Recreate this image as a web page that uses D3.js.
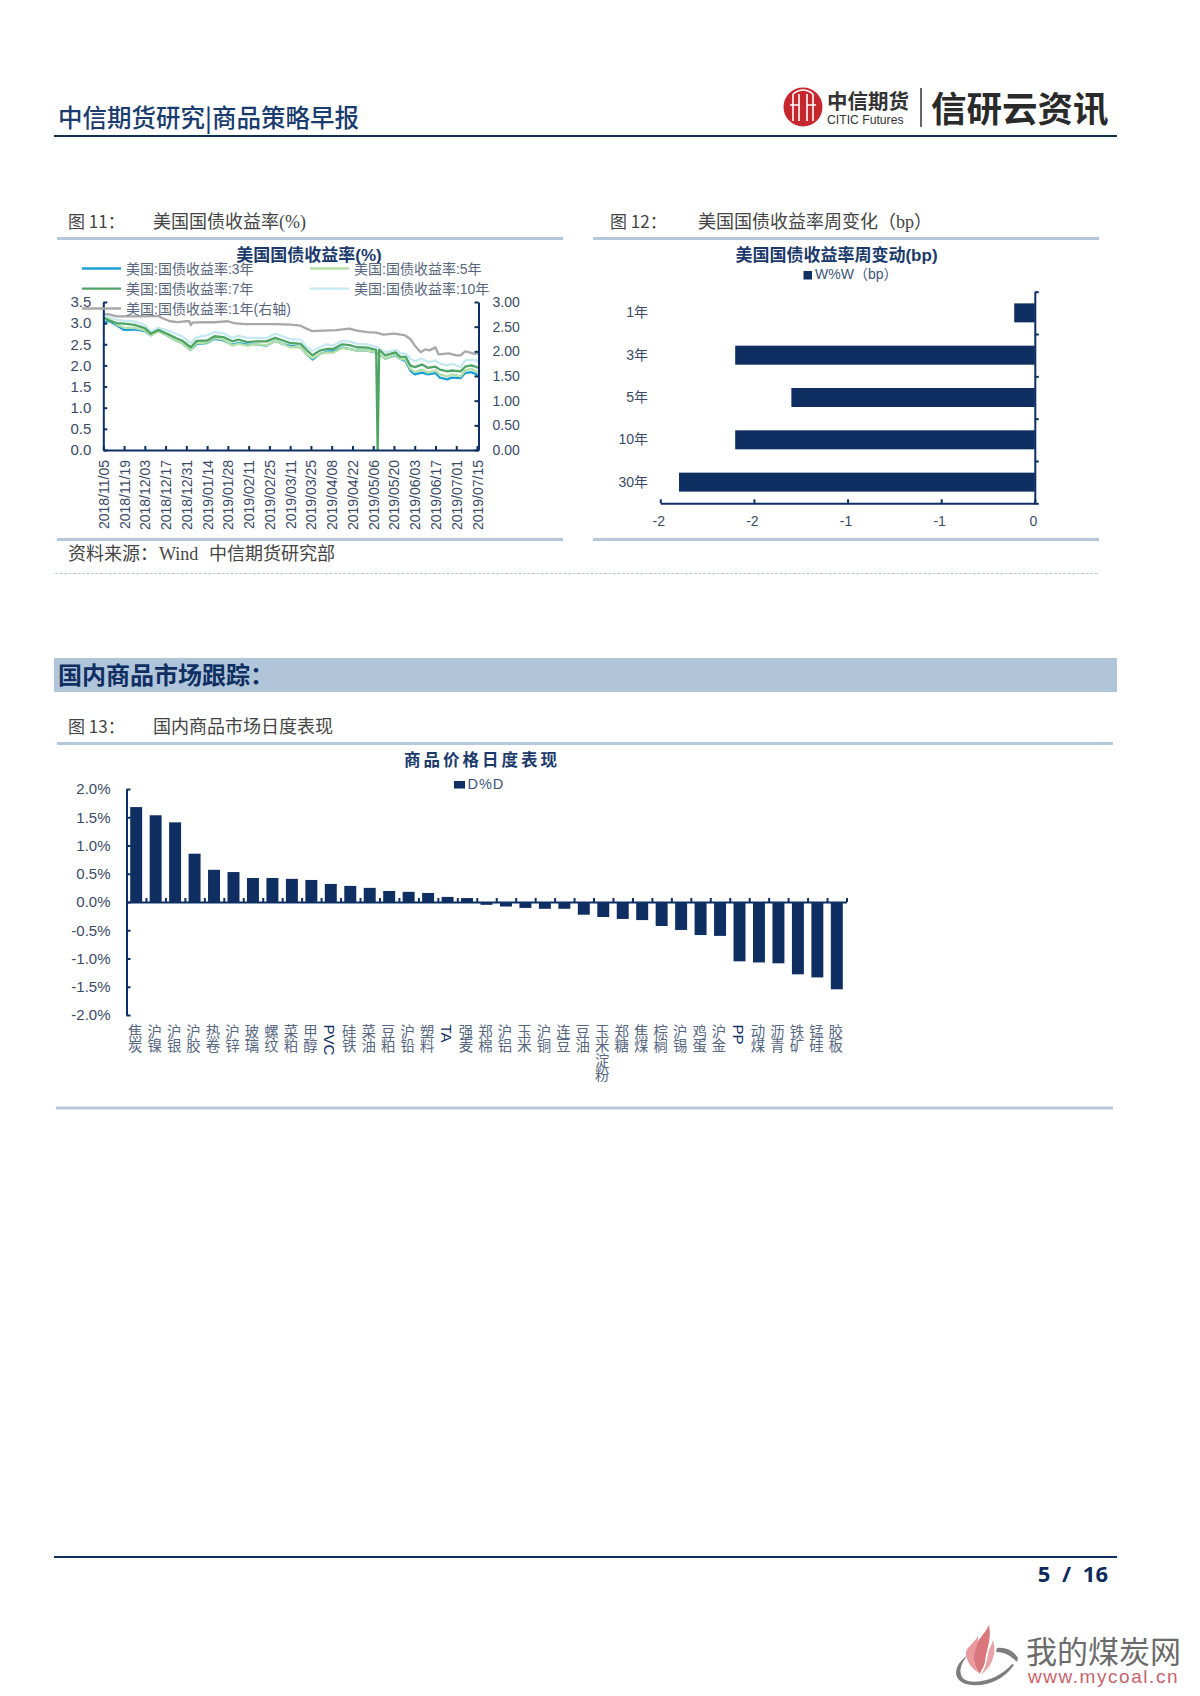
<!DOCTYPE html>
<html><head><meta charset="utf-8">
<script src="https://cdnjs.cloudflare.com/ajax/libs/d3/7.8.5/d3.min.js"></script>
<style>
html,body{margin:0;padding:0;background:#fff}
svg{display:block}
text{font-family:"Liberation Sans","Noto Sans CJK SC",sans-serif}
.serif{font-family:"Liberation Serif","Noto Sans CJK SC",serif}
.cjk{font-family:"Noto Sans CJK SC",sans-serif}
</style></head><body>
<svg id="page" width="1200" height="1696"></svg>
<script>
// ---------- Figure 11 data ----------
const yieldDates = ["2018/11/05","2018/11/09","2018/11/14","2018/11/19","2018/11/26","2018/12/03","2018/12/07","2018/12/12","2018/12/18","2018/12/24","2018/12/28","2019/01/03","2019/01/07","2019/01/14","2019/01/19","2019/01/25","2019/01/31","2019/02/04","2019/02/10","2019/02/17","2019/02/23","2019/03/01","2019/03/06","2019/03/11","2019/03/18","2019/03/22","2019/03/26","2019/03/31","2019/04/05","2019/04/09","2019/04/15","2019/04/20","2019/04/25","2019/05/02","2019/05/08","2019/05/09","2019/05/10","2019/05/14","2019/05/21","2019/05/24","2019/05/28","2019/05/31","2019/06/03","2019/06/08","2019/06/12","2019/06/17","2019/06/20","2019/06/25","2019/06/28","2019/07/04","2019/07/07","2019/07/11","2019/07/14","2019/07/16"];
const yield3Y = [3.03,3.05,2.95,2.84,2.85,2.81,2.71,2.83,2.71,2.59,2.53,2.37,2.51,2.53,2.63,2.59,2.49,2.53,2.49,2.49,2.47,2.58,2.51,2.46,2.43,2.27,2.14,2.27,2.33,2.33,2.42,2.39,2.35,2.35,2.30,2.28,2.26,2.16,2.24,2.16,2.10,1.88,1.79,1.83,1.79,1.82,1.71,1.67,1.71,1.70,1.82,1.84,1.80,1.74];
const yield5Y = [3.08,3.10,2.97,2.89,2.89,2.83,2.71,2.81,2.71,2.59,2.53,2.37,2.53,2.54,2.65,2.61,2.47,2.51,2.47,2.50,2.48,2.58,2.51,2.43,2.43,2.27,2.17,2.27,2.31,2.30,2.41,2.39,2.35,2.35,2.31,2.29,2.26,2.16,2.26,2.16,2.13,1.92,1.84,1.90,1.83,1.88,1.79,1.74,1.79,1.74,1.88,1.92,1.88,1.82];
const yield7Y = [3.14,3.06,3.00,2.99,2.96,2.88,2.75,2.84,2.75,2.65,2.59,2.43,2.58,2.59,2.69,2.67,2.57,2.61,2.55,2.57,2.57,2.65,2.59,2.53,2.51,2.37,2.24,2.35,2.39,2.39,2.50,2.48,2.43,2.42,2.37,0,2.37,2.24,2.31,2.21,2.20,2.00,1.96,2.02,1.94,1.97,1.90,1.86,1.88,1.86,1.97,2.00,1.97,1.94];
const yield10Y = [3.21,3.14,3.08,3.06,3.04,2.96,2.81,2.89,2.83,2.75,2.69,2.53,2.67,2.71,2.79,2.76,2.65,2.70,2.65,2.65,2.65,2.75,2.69,2.62,2.61,2.45,2.34,2.43,2.50,2.47,2.58,2.57,2.51,2.50,2.44,2.43,2.40,2.31,2.37,2.29,2.27,2.16,2.10,2.16,2.08,2.12,2.04,2.00,2.04,1.96,2.12,2.13,2.12,2.08];
const yield1YDates = ["2018/11/05","2018/11/09","2018/11/14","2018/11/19","2018/11/26","2018/12/03","2018/12/12","2018/12/15","2018/12/20","2018/12/25","2018/12/31","2019/01/02","2019/01/03","2019/01/04","2019/01/11","2019/01/20","2019/01/28","2019/02/01","2019/02/08","2019/02/17","2019/03/02","2019/03/11","2019/03/18","2019/03/22","2019/03/26","2019/04/02","2019/04/11","2019/04/20","2019/04/25","2019/05/02","2019/05/08","2019/05/13","2019/05/20","2019/05/27","2019/05/31","2019/06/03","2019/06/07","2019/06/10","2019/06/13","2019/06/17","2019/06/19","2019/06/26","2019/07/01","2019/07/04","2019/07/07","2019/07/10","2019/07/13","2019/07/16"];
const yield1Y = [2.76,2.75,2.71,2.71,2.71,2.71,2.72,2.67,2.61,2.59,2.61,2.61,2.53,2.58,2.59,2.59,2.61,2.57,2.55,2.55,2.55,2.54,2.52,2.46,2.41,2.42,2.43,2.46,2.42,2.39,2.38,2.34,2.36,2.33,2.25,2.12,1.98,2.04,2.02,2.08,1.94,1.96,1.92,1.92,2.00,1.98,1.95,1.96];
const yieldNames = ["美国:国债收益率:3年","美国:国债收益率:5年","美国:国债收益率:7年","美国:国债收益率:10年","美国:国债收益率:1年(右轴)"];
const dateTicks = ["2018/11/05","2018/11/19","2018/12/03","2018/12/17","2018/12/31","2019/01/14","2019/01/28","2019/02/11","2019/02/25","2019/03/11","2019/03/25","2019/04/08","2019/04/22","2019/05/06","2019/05/20","2019/06/03","2019/06/17","2019/07/01","2019/07/15"];
const leftTicks = [0,0.5,1,1.5,2,2.5,3,3.5];
const rightTicks = [0,0.5,1,1.5,2,2.5,3];

// ---------- Figure 12 data ----------
const tenors = ["1年","3年","5年","10年","30年"];
const weekChange = [-0.11,-1.6,-1.3,-1.6,-1.9];
const weekTicks = [-2,-1.5,-1,-0.5,0];
const weekTickLabels = ["-2","-2","-1","-1","0"];

// ---------- Figure 13 data ----------
const commodities = ["焦炭","沪镍","沪银","沪胶","热卷","沪锌","玻璃","螺纹","菜粕","甲醇","PVC","硅铁","菜油","豆粕","沪铅","塑料","TA","强麦","郑棉","沪铝","玉米","沪铜","连豆","豆油","玉米淀粉","郑糖","焦煤","棕榈","沪锡","鸡蛋","沪金","PP","动煤","沥青","铁矿","锰硅","胶板"];
const dayChange = [1.68,1.535,1.41,0.855,0.57,0.53,0.425,0.425,0.41,0.39,0.32,0.285,0.25,0.195,0.18,0.16,0.09,0.07,-0.05,-0.08,-0.105,-0.12,-0.12,-0.225,-0.265,-0.30,-0.32,-0.425,-0.495,-0.585,-0.60,-1.05,-1.07,-1.085,-1.28,-1.335,-1.545];
const dayTicks = [-2,-1.5,-1,-0.5,0,0.5,1,1.5,2];

const NAVY="#0d2f63", TXT="#3a4a66", RULE="#b5c7da", TITLE="#1b3a6b";
const svg=d3.select("#page");
const parse=d3.timeParse("%Y/%m/%d");

function rule(x1,x2,y,w,c){svg.append("line").attr("x1",x1).attr("x2",x2).attr("y1",y).attr("y2",y).attr("stroke",c||RULE).attr("stroke-width",w||3);}
function label(x,y,t,size,fill,opts){opts=opts||{};const s=svg.append("text").attr("x",x).attr("y",y).text(t).attr("font-size",size).attr("fill",fill).attr("text-anchor",opts.anchor||"start");
 if(opts.weight)s.attr("font-weight",opts.weight); if(opts.cls)s.attr("class",opts.cls); if(opts.ls)s.attr("letter-spacing",opts.ls); return s;}
function styleAxis(g,size){g.selectAll("path.domain,line").attr("stroke",NAVY).attr("stroke-width",2);
 g.selectAll("text").attr("fill",TXT).attr("font-size",size).attr("font-family",'"Liberation Sans","Noto Sans CJK SC",sans-serif');}

// ---------- page header ----------
label(58,127,"中信期货研究|商品策略早报",24.5,"#1a3c6e",{cls:"cjk",weight:500});
rule(54,1117,136,2,"#10304f");
const logo=svg.append("g").attr("transform","translate(803,107)");
logo.append("circle").attr("r",19.5).attr("fill","#c6262e");
[-10,-4,4,10].forEach(d=>logo.append("line").attr("x1",d).attr("x2",d).attr("y1",-13).attr("y2",14).attr("stroke","#fff").attr("stroke-width",1.6));
logo.append("path").attr("d","M-10,-13 Q0,-21 10,-13 M-13,-2 H-4 M4,-2 H13").attr("fill","none").attr("stroke","#fff").attr("stroke-width",1.6);
label(827,109,"中信期货",20.5,"#333",{cls:"cjk",weight:700});
label(827,123.5,"CITIC Futures",12.2,"#333");
svg.append("line").attr("x1",921).attr("x2",921).attr("y1",88).attr("y2",127).attr("stroke","#333").attr("stroke-width",1.5);
label(931,122,"信研云资讯",35.5,"#2a2a2a",{cls:"cjk",weight:700});

// ---------- panel titles ----------
label(68,228,"图 11：",17,"#444",{cls:"cjk"});
label(153,228,"美国国债收益率(%)",18,"#444",{cls:"serif"});
label(610,228,"图 12：",17,"#444",{cls:"cjk"});
label(698,228,"美国国债收益率周变化（bp）",18,"#444",{cls:"serif"});
rule(57,563,238.5); rule(593,1099,238.5);
rule(57,563,539.5); rule(593,1099,539.5);
label(68,560,"资料来源：",18,"#444",{cls:"cjk"});
label(159,560,"Wind",18,"#444",{cls:"serif"});
label(209,560,"中信期货研究部",18,"#444",{cls:"cjk"});
svg.append("line").attr("x1",55).attr("x2",1099).attr("y1",573.5).attr("y2",573.5).attr("stroke","#b9c9d8").attr("stroke-width",1).attr("stroke-dasharray","3 1.5");

// ---------- Figure 11 ----------
(function(){
 const L=103.3,R=478.5,T=302,B=450;
 const x=d3.scaleTime().domain([parse("2018/11/05"),parse("2019/07/16")]).range([L,R]);
 const yL=d3.scaleLinear().domain([0,3.5]).range([B,T]);
 const yR=d3.scaleLinear().domain([0,3]).range([B,T]);
 const dts=yieldDates.map(parse), dts1=yield1YDates.map(parse);
 const line=(xs,ys,sc,c)=>svg.append("path").datum(ys.map((v,i)=>[xs[i],v])).attr("fill","none").attr("stroke",c).attr("stroke-width",2.3).attr("stroke-linejoin","round")
   .attr("d",d3.line().x(d=>x(d[0])).y(d=>sc(d[1])));
 const cols=["#1c9fd6","#b4dfa6","#4ea465","#c6e9f1","#a8a8a8"];
 line(dts,yield10Y,yL,cols[3]);
 line(dts,yield3Y,yL,cols[0]);
 line(dts,yield5Y,yL,cols[1]);
 line(dts,yield7Y,yL,cols[2]);
 line(dts1,yield1Y,yR,cols[4]);
 const gx=svg.append("g").attr("transform",`translate(0,${B})`)
  .call(d3.axisBottom(x).tickValues(dateTicks.map(parse)).tickFormat(d3.timeFormat("%Y/%m/%d")).tickSizeInner(-4).tickSizeOuter(0).tickPadding(0));
 styleAxis(gx,14);
 gx.selectAll("text").attr("transform","translate(5,10) rotate(-90)").attr("text-anchor","end").attr("dy",0).attr("y",0).attr("x",0);
 const gl=svg.append("g").attr("transform",`translate(${L},0)`)
  .call(d3.axisLeft(yL).tickValues(leftTicks).tickFormat(d3.format(".1f")).tickSizeInner(-4).tickSizeOuter(0).tickPadding(12));
 styleAxis(gl,15);
 const gr=svg.append("g").attr("transform",`translate(${R},0)`)
  .call(d3.axisRight(yR).tickValues(rightTicks).tickFormat(d3.format(".2f")).tickSizeInner(-4).tickSizeOuter(0).tickPadding(14));
 styleAxis(gr,14);
 label(309,261,"美国国债收益率(%)",17,TITLE,{anchor:"middle",weight:700});
 const leg=[[82,268.5,0],[310,268.5,1],[82,288.7,2],[310,288.7,3],[82,308.5,4]];
 leg.forEach(([lx,ly,i])=>{
  svg.append("line").attr("x1",lx).attr("x2",lx+39).attr("y1",ly).attr("y2",ly).attr("stroke",cols[i]).attr("stroke-width",2.3);
  label(lx+44,ly+5,yieldNames[i],14,"#59667d");
 });
})();

// ---------- Figure 12 ----------
(function(){
 const L=660.3,R=1034.8,T=291.7,B=503.3;
 const x=d3.scaleLinear().domain([-2,0]).range([L,R]);
 const y=d3.scaleBand().domain(tenors).range([T,B]);
 const bh=19;
 svg.append("g").selectAll("rect").data(weekChange).join("rect")
  .attr("x",d=>x(d)).attr("width",d=>x(0)-x(d))
  .attr("y",(d,i)=>y(tenors[i])+(y.bandwidth()-bh)/2).attr("height",bh).attr("fill","#0f2f63");
 const gx=svg.append("g").attr("transform",`translate(0,${B})`)
  .call(d3.axisBottom(x).tickValues(weekTicks).tickFormat((d,i)=>weekTickLabels[i]).tickSizeInner(-4).tickSizeOuter(0).tickPadding(13));
 styleAxis(gx,14);
 gx.selectAll("text").attr("dx",-2);
 const idx=d3.scaleLinear().domain([0,5]).range([T,B]);
 const gy=svg.append("g").attr("transform",`translate(${R},0)`)
  .call(d3.axisRight(idx).tickValues(d3.range(0,6)).tickFormat("").tickSizeInner(4).tickSizeOuter(0));
 styleAxis(gy,14);
 const gc=svg.append("g").attr("transform","translate(648,0)").call(d3.axisLeft(y).tickSize(0).tickPadding(0));
 gc.select(".domain").remove(); styleAxis(gc,14);
 label(836.5,261,"美国国债收益率周变动(bp)",17,TITLE,{anchor:"middle",weight:700});
 svg.append("rect").attr("x",803.5).attr("y",271).attr("width",8.5).attr("height",8.5).attr("fill","#0f2f63");
 label(815,279,"W%W（bp）",14,"#3d5479");
})();

// ---------- section banner ----------
svg.append("rect").attr("x",54).attr("y",658).attr("width",1063).attr("height",34).attr("fill","#b0c5da");
label(58,684,"国内商品市场跟踪：",24,"#0f2f63",{cls:"cjk",weight:700});
label(68,733,"图 13：",17,"#444",{cls:"cjk"});
label(153,733,"国内商品市场日度表现",18,"#444",{cls:"cjk"});
rule(57,1113,743.5); rule(56,1113,1108);

// ---------- Figure 13 ----------
(function(){
 const L=126.5,R=846.5,T=789,B=1015;
 const y=d3.scaleLinear().domain([-2,2]).range([B,T]);
 const x=d3.scaleBand().domain(commodities).range([L,R]).paddingInner(0.385).paddingOuter(0.19);
 svg.append("g").selectAll("rect").data(dayChange).join("rect")
  .attr("x",(d,i)=>x(commodities[i])).attr("width",x.bandwidth())
  .attr("y",d=>y(Math.max(d,0))).attr("height",d=>Math.abs(y(d)-y(0))).attr("fill","#0f2f63");
 const gy=svg.append("g").attr("transform",`translate(${L},0)`)
  .call(d3.axisLeft(y).tickValues(dayTicks).tickFormat(d=>d.toFixed(1)+"%").tickSizeInner(-4).tickSizeOuter(0).tickPadding(16));
 styleAxis(gy,15);
 const idx=d3.scaleLinear().domain([0,commodities.length]).range([L,R]);
 const gx=svg.append("g").attr("transform",`translate(0,${y(0)})`)
  .call(d3.axisTop(idx).tickValues(d3.range(0,commodities.length+1)).tickFormat("").tickSizeInner(4).tickSizeOuter(0));
 styleAxis(gx,14);
 svg.append("g").selectAll("text").data(commodities).join("text")
  .text(d=>d)
  .attr("x",d=>x(d)+x.bandwidth()/2-1)
  .attr("y",1024.5)
  .style("writing-mode","vertical-rl")
  .attr("font-size",d=>/^[A-Z]+$/.test(d)?15:14.4)
  .attr("letter-spacing",d=>/^[A-Z]+$/.test(d)?0:-0.2)
  .attr("fill",d=>/^[A-Z]+$/.test(d)?NAVY:"#56667f")
  .attr("class",d=>/^[A-Z]+$/.test(d)?null:"cjk");
 label(482,766,"商品价格日度表现",16.5,TITLE,{anchor:"middle",weight:700,cls:"cjk",ls:3});
 svg.append("rect").attr("x",454).attr("y",781).attr("width",11).attr("height",7.5).attr("fill","#0f2f63");
 label(467.5,789,"D%D",14.5,"#3d5479",{ls:1});
})();

// ---------- footer ----------
rule(54,1117,1557,2,"#0f2e5e");
svg.append("text").attr("x",1108).attr("y",1581.5).attr("text-anchor","end").text("5 / 16").attr("font-size",22).attr("font-weight",700).attr("fill","#0f2a5c").style("font-family",'"Open Sans"').attr("word-spacing",6);

// ---------- watermark ----------
svg.append("path").attr("d","M997,1648 C1006,1647 1014,1651 1018,1658 L1017,1662 C1011,1656 1005,1652 996,1652 Z").attr("fill","#7d7d7d");
svg.append("path").attr("d","M968,1655 C952,1666 953,1680 966,1684 C982,1688 1002,1682 1014,1665 L1012,1664 C1002,1676 984,1684 968,1681 C958,1678 958,1666 968,1655 Z").attr("fill","#7d7d7d");
svg.append("path").attr("d","M989,1625 C992,1640 986,1650 985,1662 C984,1667 980,1672 980,1674 C975,1668 972,1660 975,1648 C977,1640 985,1634 989,1625 Z").attr("fill","#d9777c");
svg.append("path").attr("d","M978,1636 C979,1645 973,1652 974,1662 C975,1666 977,1671 979,1673 C972,1669 965,1660 966,1652 C968,1646 975,1642 978,1636 Z").attr("fill","#e9989c");
svg.append("path").attr("d","M993,1640 C996,1650 994,1660 988,1668 C985,1671 983,1673 981,1675 C986,1667 987,1660 988,1654 C989,1648 992,1645 993,1640 Z").attr("fill","#e9a3a6");
label(1026,1663,"我的煤炭网",31,"#6b6b6b",{cls:"cjk"});
label(1028,1683,"www.mycoal.cn",19,"#c8636d",{ls:1.55});
</script>
</body></html>
